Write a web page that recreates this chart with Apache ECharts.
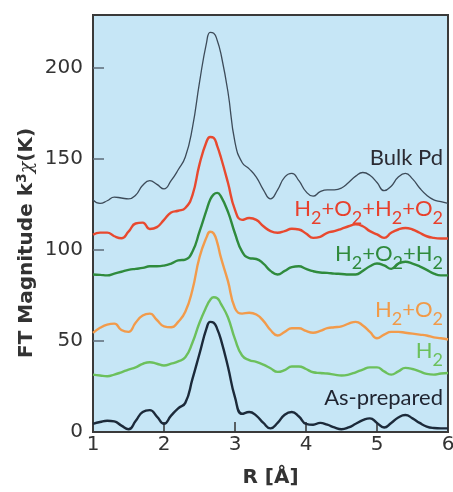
<!DOCTYPE html>
<html>
<head>
<meta charset="UTF-8">
<script src="https://cdn.jsdelivr.net/npm/echarts@6/dist/echarts.min.js"></script>
<style>
  html, body { margin: 0; padding: 0; background: #fff; }
  #chart { width: 453px; height: 492px; }
</style>
</head>
<body>
<div id="chart"></div>
<script>
// R positions (Å) shared by every curve
var rValues = [1.0,1.1,1.2,1.3,1.4,1.5,1.6,1.7,1.8,1.9,2.0,2.1,2.2,2.3,2.4,2.5,2.6,2.65,2.7,2.75,
  2.8,2.9,3.0,3.1,3.2,3.3,3.4,3.5,3.6,3.7,3.8,3.9,4.0,4.1,4.2,4.3,4.4,4.5,4.6,4.7,4.8,4.9,
  5.0,5.1,5.2,5.3,5.4,5.5,5.6,5.7,5.8,5.9,6.0];

var bulkPd = [127.5,125.5,127,129,128.5,128,130,135.5,138,136,133.5,138,144,151,167,192,214,219.5,219,215,
  208,187,159,148,144.5,140,133,128,133,140,142,138,132,129.5,132,133,133,134,137,140.5,142.5,141,
  137,132.5,135,140,142,139,134,130,127.5,126.5,125.5];

var h2o2h2o2 = [108.3,109.5,109.5,107.5,106.4,110,114.5,115,111.5,112.5,116.5,120.5,121.5,123,130,147,159.5,162,161.5,157,
  151,137,122,116.5,117.5,116.5,113,110.3,109.4,110.3,111.6,111.2,109,106.6,107.2,109.4,110.3,111.6,113,114,113,110.3,
  108.5,106.6,109.4,111.2,112,111.2,109.4,107.5,106.6,106.3,106.3];

var h2o2h2 = [86.5,86.3,86,87,88,89,89.6,90.1,91,91,91.4,92.5,94.2,94.7,99,110,122,127.5,130.5,131.3,
  129.5,121,109,99,95.5,95,92.5,88.5,86.5,88.5,90.5,91,89.6,88.3,87.6,87.4,87,86.8,86.5,86.5,88.5,91,
  92.5,91.5,89.6,92.5,93.5,92.5,91,89,87,86,86];

var h2o2 = [54.4,57.2,59,59.5,56,55,60,64,65,61.5,58,57.5,60.5,66,78,96,107,110,109,104,
  96,83,68,65,65.5,64.5,61,56,53,55,57,57,55.5,54.5,55.5,57,57.5,58,59.5,60.5,58.5,55,
  51.5,53.5,55,55,54.5,54,53.5,53,52,51.5,50.8];

var h2 = [31.5,31,30.6,31.5,32.8,34.3,35.5,37.4,38.3,37.5,36.5,37.5,38.8,41,49,60,69,72.5,74,73.5,
  70.5,63,51,42,39.5,38.5,37,35,33,34,36,36,34.6,32.8,32.4,32.1,31.5,31,31.5,32.8,34.3,35.5,
  35.5,33.3,31.5,33.3,35.2,34.6,33.3,31.9,31.5,32.1,32.4];

var asPrepared = [4.5,5.5,6.2,5.8,3.5,1.5,6,11,12,8.5,4.5,9,13,16,29,43,57,60.5,60,56.5,
  51,36,19,10,11,9,5,2,5,9.5,11,8.5,4.5,4,5,4,2.5,1.5,2.5,4.5,6.5,7.5,
  5,2.5,5,8,9.3,7.5,5,3,2.2,2,2];

var xTickValues = [2, 3, 4, 5];
var yTickValues = [50, 100, 150, 200];
var yLabelValues = [0, 50, 100, 150, 200];

function pairs(ys) {
  return rValues.map(function (r, i) { return [r, ys[i]]; });
}

function curve(name, ys, color, width) {
  return {
    name: name,
    type: 'line',
    data: pairs(ys),
    smooth: 0.5,
    showSymbol: false,
    silent: true,
    lineStyle: { color: color, width: width }
  };
}

var FONT = 'Lato';
var subRich = {
  m: { fontSize: 22, lineHeight: 36, fontFamily: FONT },
  s: { fontSize: 18, verticalAlign: 'bottom', fontFamily: FONT }
};

function label(text, top, color) {
  return {
    type: 'text',
    right: 10,
    top: top,
    silent: true,
    style: {
      text: text,
      fill: color,
      font: '22px ' + FONT,
      rich: subRich
    }
  };
}

var chart = echarts.init(document.getElementById('chart'));
chart.setOption({
  animation: false,
  backgroundColor: '#ffffff',
  grid: {
    left: 93, right: 5, top: 15, bottom: 60,
    outerBoundsMode: 'none',
    show: true,
    backgroundColor: '#c6e6f6',
    borderColor: '#3a3a3a',
    borderWidth: 2
  },
  xAxis: {
    type: 'value',
    min: 1, max: 6, interval: 1,
    name: 'R [Å]',
    nameLocation: 'middle',
    nameGap: 36,
    nameTextStyle: { fontSize: 20, fontWeight: 'bold', color: '#333', fontFamily: 'DejaVu Sans' },
    axisLine: { lineStyle: { color: '#3a3a3a', width: 2 } },
    axisTick: { inside: true, length: 10, customValues: xTickValues, lineStyle: { color: '#333', width: 1.5 } },
    axisLabel: { fontSize: 20, color: '#333', margin: 3, fontFamily: 'DejaVu Sans' },
    splitLine: { show: false }
  },
  yAxis: {
    type: 'value',
    min: 0, max: 229,
    axisLine: { show: true, lineStyle: { color: '#3a3a3a', width: 2 } },
    axisTick: { show: true, inside: true, length: 11, customValues: yTickValues, lineStyle: { color: '#5e6b78', width: 1.5 } },
    axisLabel: { fontSize: 20, color: '#333', margin: 10, fontFamily: 'DejaVu Sans', customValues: yLabelValues },
    splitLine: { show: false }
  },
  graphic: [
    {
      type: 'text',
      x: 27, y: 243,
      rotation: Math.PI / 2,
      silent: true,
      style: {
        text: '{b|FT Magnitude k}{p|3}{c|χ}{b|(K)}',
        align: 'center',
        verticalAlign: 'middle',
        fill: '#333',
        rich: {
          b: { fontSize: 20, fontWeight: 'bold', fontFamily: 'DejaVu Sans', lineHeight: 24 },
          p: { fontSize: 14, fontWeight: 'bold', fontFamily: 'DejaVu Sans', verticalAlign: 'top' },
          c: { fontSize: 19, fontFamily: 'DejaVu Serif', fontStyle: 'italic', lineHeight: 24 }
        }
      }
    },
    label('{m|Bulk Pd}', 147, '#2b2b33'),
    label('{m|H}{s|2}{m|+O}{s|2}{m|+H}{s|2}{m|+O}{s|2}', 198, '#e8402c'),
    label('{m|H}{s|2}{m|+O}{s|2}{m|+H}{s|2}', 243, '#2f8a3c'),
    label('{m|H}{s|2}{m|+O}{s|2}', 299, '#f19a48'),
    label('{m|H}{s|2}', 340, '#6cc05c'),
    label('{m|As-prepared}', 387, '#1f2430')
  ],
  series: [
    curve('Bulk Pd', bulkPd, '#3d4b59', 1.3),
    curve('H2+O2+H2+O2', h2o2h2o2, '#e8492f', 2.4),
    curve('H2+O2+H2', h2o2h2, '#2f8b3d', 2.4),
    curve('H2+O2', h2o2, '#f29b4b', 2.4),
    curve('H2', h2, '#6cc05c', 2.4),
    curve('As-prepared', asPrepared, '#1c2a3a', 2.4)
  ]
});
</script>
</body>
</html>
